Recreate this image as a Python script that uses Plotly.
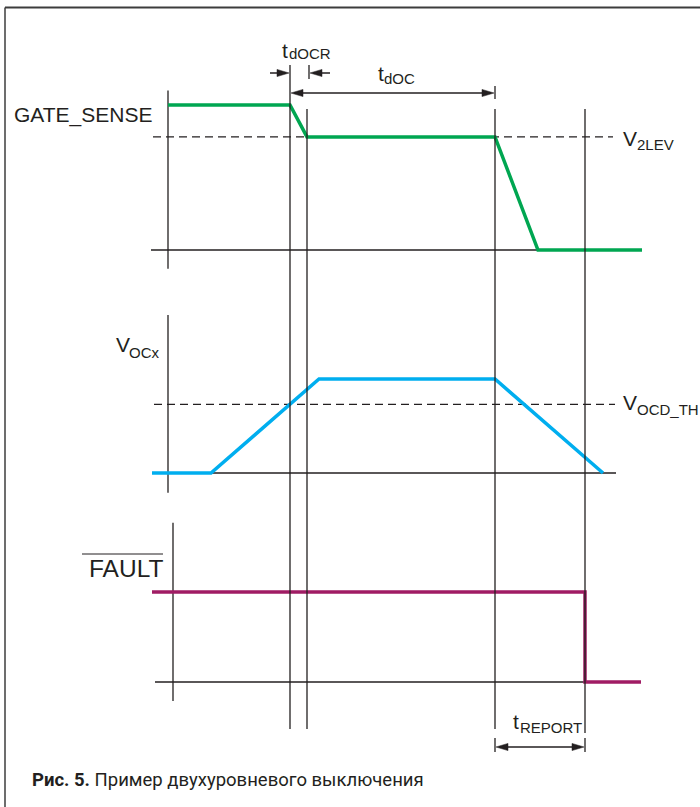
import plotly.graph_objects as go

# ---------------------------------------------------------------------------
# Timing data (time in arbitrary units, origin at the GATE_SENSE axis)
# ---------------------------------------------------------------------------
t_markers = [122, 139, 327, 417]          # tdOCR start, tdOCR end, tdOC end, tREPORT end

gate_t = [0, 122, 139, 327, 370, 474]
gate_v = [1.0, 1.0, 0.78, 0.78, 0.0, 0.0]
v2lev = 0.78

vocx_t = [-16, 43, 151, 327, 435]
vocx_v = [0.0, 0.0, 1.0, 1.0, 0.0]
vocd_th = 0.73

fault_t = [-16, 417, 417, 473]
fault_v = [1.0, 1.0, 0.0, 0.0]

# extents of the black reference lines (time) per panel
gate_base_t = [-17, 370]
vocx_base_t = [-16, 448]
fault_base_t = [-13, 417]
v2lev_line_t = [-15, 445]
vocd_line_t = [-14, 447]

# ---------------------------------------------------------------------------
# Page layout
# ---------------------------------------------------------------------------
W, H = 700, 807
X_ORIGIN = 168                      # page column of t = 0
# page rows of level 0 and level 1 in each panel
PANEL_ROWS = {"gate": (250, 105), "vocx": (473, 379), "fault": (682, 592)}

GREEN = "rgb(0,166,81)"
BLUE = "rgb(0,174,239)"
MAGENTA = "rgb(160,28,100)"
INK = "rgb(35,31,32)"
FONT = "Liberation Sans, Arial, sans-serif"


def px(col):
    return col / W


def py(row):
    return 1 - row / H


def level_range(panel):
    p0, p1 = PANEL_ROWS[panel]
    span = p0 - p1
    return [(p0 - H) / span, p0 / span]


def t_of(col):
    return col - X_ORIGIN


fig = go.Figure()

axis_for = {"gate": "y", "vocx": "y2", "fault": "y3"}


def black(ts, vs, panel, dash=None):
    fig.add_trace(go.Scatter(
        x=ts, y=vs, yaxis=axis_for[panel], mode="lines", hoverinfo="skip",
        line=dict(color=INK, width=1.3, dash=dash)))


# panel axes, baselines and thresholds
black([0, 0], [-0.13, 1.10], "gate")
black(gate_base_t, [0, 0], "gate")
black(v2lev_line_t, [v2lev, v2lev], "gate", dash="8px,5px")

black([0, 0], [-0.21, 1.68], "vocx")
black(vocx_base_t, [0, 0], "vocx")
black(vocd_line_t, [vocd_th, vocd_th], "vocx", dash="8px,5px")

black([5, 5], [-0.21, 1.77], "fault")
black(fault_base_t, [0, 0], "fault")

# signals
fig.add_trace(go.Scatter(x=gate_t, y=gate_v, yaxis="y", mode="lines",
                         line=dict(color=GREEN, width=3.5), hoverinfo="skip"))
fig.add_trace(go.Scatter(x=vocx_t, y=vocx_v, yaxis="y2", mode="lines",
                         line=dict(color=BLUE, width=3.5), hoverinfo="skip"))
fig.add_trace(go.Scatter(x=fault_t, y=fault_v, yaxis="y3", mode="lines",
                         line=dict(color=MAGENTA, width=3.5), hoverinfo="skip"))

shapes = []


def vline(t, top, bottom, width=1.3):
    shapes.append(dict(type="line", xref="x", yref="paper", x0=t, x1=t,
                       y0=py(top), y1=py(bottom),
                       line=dict(color=INK, width=width), layer="above"))


def hline(t0, t1, row):
    shapes.append(dict(type="line", xref="x", yref="paper", x0=t0, x1=t1,
                       y0=py(row), y1=py(row),
                       line=dict(color=INK, width=1.5), layer="above"))


def head(t_tip, row, direction, length=12, half=3.6):
    # filled arrowhead, tip at (t_tip, row); direction +1 points right
    back = t_tip - direction * length
    path = (f"M {t_tip},{py(row)} L {back},{py(row - half)} "
            f"L {back},{py(row + half)} Z")
    shapes.append(dict(type="path", xref="x", yref="paper", path=path,
                       fillcolor=INK, line=dict(color=INK, width=0.5),
                       layer="above"))


# vertical time markers
vline(t_markers[0], 65, 729)
vline(t_markers[1], 109, 729)
vline(t_markers[2], 109, 729)
vline(t_markers[3], 109, 733)

# dimension ticks
vline(t_markers[1] + 2, 65, 79)
vline(t_markers[2], 86, 99)
vline(t_markers[2], 738, 752)
vline(t_markers[3], 738, 752)

# tdOCR arrows (pointing inward)
hline(t_markers[0] - 20, t_markers[0] - 5, 73)
head(t_markers[0] - 1, 73, +1)
hline(t_markers[1] + 8, t_markers[1] + 23, 73)
head(t_markers[1] + 3, 73, -1)

# tdOC dimension
hline(t_markers[0] + 6, t_markers[2] - 6, 93)
head(t_markers[0] + 1, 93, -1)
head(t_markers[2] - 1, 93, +1)

# tREPORT dimension
hline(t_markers[2] + 6, t_markers[3] - 6, 747)
head(t_markers[2] + 1, 747, -1)
head(t_markers[3] - 1, 747, +1)

# frame
shapes.append(dict(type="line", xref="paper", yref="paper", x0=px(5), x1=1,
                   y0=py(7.5), y1=py(7.5), line=dict(color="rgb(60,60,60)", width=2)))
shapes.append(dict(type="line", xref="paper", yref="paper", x0=px(5), x1=px(5),
                   y0=py(7.5), y1=0, line=dict(color="rgb(60,60,60)", width=1.5)))

# overline of FAULT
shapes.append(dict(type="line", xref="paper", yref="paper", x0=px(82), x1=px(163),
                   y0=py(554), y1=py(554), line=dict(color=INK, width=1)))

annotations = []


def label(text, col, row, size=21, anchor="left", font=FONT, color=INK):
    annotations.append(dict(text=text, xref="paper", yref="paper",
                            x=px(col), y=py(row), xanchor=anchor, yanchor="middle",
                            showarrow=False, borderpad=0,
                            font=dict(family=font, size=size, color=color)))


def sym(main, sub, col, row, sub_col, sub_row):
    label(main, col, row, 21)
    label(sub, sub_col, sub_row, 15)


label("GATE_SENSE", 154, 115, 21, anchor="right")
label("FAULT", 164, 568.5, 24.5, anchor="right")
sym("V", "OCx", 114.5, 344.5, 128, 352)
sym("V", "2LEV", 622, 138, 636, 144)
sym("V", "OCD_TH", 622, 402.5, 636, 409)
sym("t", "dOCR", 281, 50, 288, 54)
sym("t", "dOC", 377, 73.5, 383, 78.5)
sym("t", "REPORT", 512, 721, 519, 727)

label("<b>Рис. 5.</b> Пример двухуровневого выключения", 31, 780, 18.5,
      font="Liberation Sans Narrow, Roboto, Arial, sans-serif")

hidden = dict(visible=False, fixedrange=True)
fig.update_layout(
    width=W, height=H,
    margin=dict(l=0, r=0, t=0, b=0),
    paper_bgcolor="white", plot_bgcolor="white",
    showlegend=False,
    xaxis=dict(range=[t_of(0), t_of(W)], domain=[0, 1], **hidden),
    yaxis=dict(range=level_range("gate"), domain=[0, 1], **hidden),
    yaxis2=dict(range=level_range("vocx"), overlaying="y", **hidden),
    yaxis3=dict(range=level_range("fault"), overlaying="y", **hidden),
    shapes=shapes,
    annotations=annotations,
)

fig.write_html("out.html")
